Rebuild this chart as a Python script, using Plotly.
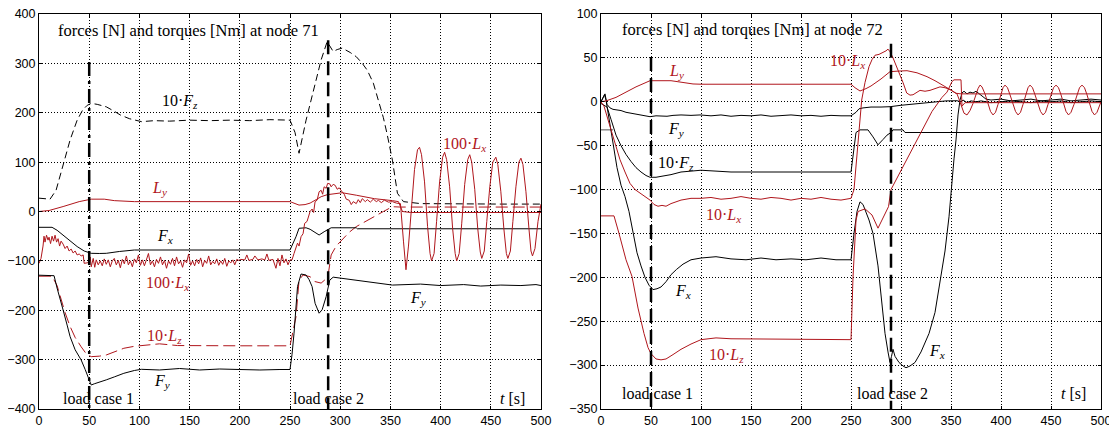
import plotly.graph_objects as go

RED = "#b0161c"
BLK = "#000000"
GRY = "#555555"

# ---------------- node 71 (left) ----------------
FZ10_L_T = [0, 11, 17, 24, 31, 38, 43.5, 48, 52, 58, 67, 75, 81, 90, 102, 115, 130, 150, 170, 190, 210, 230, 250, 255, 259, 266, 273.5, 281, 287, 290, 293, 297, 302, 310, 316, 322, 327, 333, 338, 343, 346.6, 352, 357, 363, 380, 420, 460, 500]
FZ10_L_V = [27, 25, 43, 95, 145, 185, 205.6, 215, 219, 217, 212, 203, 195.5, 188, 182, 184, 183, 185, 184, 185, 184, 186, 185, 160, 118, 185, 246, 307, 344, 335, 324, 328, 331, 322, 313.5, 300, 286, 260, 226, 190, 158, 104, 37, 20, 16, 15, 15, 15]

LY_L_T = [0, 10, 24, 40, 52, 65, 75, 95, 250, 255, 259, 265, 270, 276, 281, 287, 291, 296, 302, 316, 334, 352, 358, 362, 370, 500]
LY_L_V = [0, 2, 10, 20, 25, 25, 22, 20, 20, 16, 13, 14, 17, 24, 30, 34, 35, 37, 38, 33, 26, 22, 20, 0, -2, -2]

LZ10_L_T = [0, 13, 18, 22, 26, 31, 36, 42, 47, 52, 60, 67, 75, 84.5, 95, 102, 120, 138, 160, 200, 250, 253, 256, 259, 263, 270, 275, 281, 285, 288, 291, 296, 302, 309, 316, 325, 334, 343, 352, 360, 500]
LZ10_L_V = [-131, -131, -150, -179, -205, -233, -255, -274, -288, -294, -293, -290.6, -284, -277, -273, -271.5, -268, -271.5, -272, -272, -272, -240, -213, -139, -128.6, -132, -142, -145, -138, -128, -88, -70, -57.7, -42, -30.6, -20, -10, 0, 9.7, 9, 9]

FX_L_T = [0, 13, 18, 24, 31, 38, 45, 52, 60, 67, 80, 95, 250, 253, 256, 259, 266, 270, 273.5, 279, 284, 288, 291, 316, 317, 500]
FX_L_V = [-32, -32, -38, -47.6, -60, -71, -80, -84.7, -85, -84.7, -81, -78, -78, -65, -51, -34, -33, -36, -41, -47.6, -41, -36, -33, -33, -35, -35]

FY_L_T = [0, 15, 18, 21, 24, 28, 31, 36, 42, 46, 49, 52, 55, 60, 67, 75, 84.5, 95, 102, 120, 140, 160, 180, 200, 220, 240, 250, 252, 254, 257.5, 261, 266, 269, 272, 275, 279, 282, 286, 289.6, 293, 300, 316, 335, 352, 380, 400, 423, 440, 460, 480, 495, 500]
FY_L_V = [-129, -130, -155, -180, -199.5, -230, -253.5, -280, -300.7, -320, -334.5, -351.4, -349, -345, -341, -335, -327.7, -322, -319.6, -321, -318, -321, -319, -320, -321, -320, -320, -290, -246.7, -152, -126.6, -128.6, -138, -152, -186, -206, -199, -172.5, -139, -133, -135, -138.7, -144, -149, -147, -150, -148, -151, -149, -150, -148, -150]

LX100_L_T = [0, 2, 4, 5, 6, 7.5, 9, 10, 11.5, 13, 14.5, 16, 17.5, 19, 20.5, 22, 24, 26, 28, 30, 32, 34, 36, 38, 40, 42, 44, 45, 48, 50, 51, 52, 54, 55.5, 57, 59, 61, 63, 65, 67, 69, 71, 73, 75, 77, 79, 81, 83, 85, 87, 89, 91, 93, 95, 97, 99, 101, 103, 105, 107, 109, 111, 113, 115, 117, 119, 121, 123, 125, 127, 129, 131, 133, 135, 137, 139, 141, 143, 145, 147, 149, 151, 153, 155, 157, 159, 161, 163, 165, 167, 169, 171, 173, 175, 177, 179, 181, 183, 185, 187, 189, 191, 193, 195, 197, 199, 201, 205, 207, 209, 213, 215, 218, 222, 225, 227, 229, 233, 236, 238, 240, 242, 244, 246, 248, 250,
             252, 254, 257.5, 259, 261, 263, 264.6, 267, 270, 272, 273.5, 275, 277, 279, 281, 282.5, 284, 286, 287.5, 289.6, 291, 293, 295, 297, 299, 302, 304, 306, 309, 311, 313, 316, 318, 320, 322, 325, 327, 330, 333, 336, 338, 341, 344, 348, 352, 356, 359,
             360, 363, 365.5, 368, 371, 374, 377, 379, 381, 384, 387, 389.5, 391, 393.5, 396, 399, 402, 404, 406, 409, 412, 414.5, 416, 418.5, 421, 424, 427, 429, 431, 434, 437, 439.5, 441, 443.5, 446, 449, 452, 455, 457, 460, 463, 465.5, 467, 469.5, 472, 475, 478, 480, 482, 485, 488, 490, 491.5, 494, 497, 500]
LX100_L_V = [-105, -95, -70, -50, -62, -48, -58, -52, -65, -50, -60, -48, -62, -55, -70, -60, -66, -75, -70, -80, -76, -84, -80, -88, -86, -90, -88, -105, -104, -102, -92, -112, -95, -113, -98, -108, -100, -110, -96, -107, -98, -112, -100, -95, -108, -99, -114, -97, -106, -90, -108, -100, -112, -96, -104, -88, -109, -98, -110, -96, -85, -108, -100, -112, -97, -105, -92, -108, -99, -115, -100, -107, -95, -110, -92, -106, -100, -113, -98, -104, -86, -109, -100, -110, -97, -106, -94, -112, -99, -105, -90, -108, -101, -106, -96, -109, -100, -107, -95, -111, -100, -104, -98, -108, -97, -99, -97, -98, -88, -99, -97, -90, -98, -96, -98, -86, -99, -97, -115, -95, -110, -88, -104, -96, -108, -98,
             -98, -85, -64, -70, -51, -45, -24, -20, 0, 5, -2, 20, 23, 40, 43, 35, 50, 47, 57, 56, 50, 55, 53, 45, 48, 39.6, 35, 25, 22.7, 14, 20, 16, 24, 18, 26, 20, 24, 19, 25, 20, 22.7, 18, 23, 19, 20, 17, 16,
             16, -60, -118, -70, 10, 85, 125, 130, 115, 60, -30, -85, -100, -85, -20, 60, 110, 120, 105, 50, -35, -85, -100, -85, -25, 55, 105, 115, 100, 45, -35, -82, -95, -80, -20, 50, 100, 110, 95, 40, -35, -85, -95, -80, -20, 50, 100, 108, 95, 40, -35, -80, -90, -75, -20, 15]

# ---------------- node 72 (right) ----------------
LY_R_T = [0, 5, 15, 25, 35, 45, 49, 60, 70, 76, 85, 92, 100, 250, 254, 259, 265, 270, 280, 289, 298, 306, 316, 326, 334, 342, 349, 355, 360, 500]
LY_R_V = [0, 1, 5, 11, 17, 22, 24, 24, 24, 23, 21, 20.3, 20, 20, 16, 12.3, 15, 18, 26, 34.3, 35, 35.4, 33, 28.6, 24, 19, 14, 9.7, 9, 9]

LZ10_R_T = [0, 13, 18, 25, 31, 37, 43, 47, 50, 55, 60, 65, 72, 80, 90, 100, 115, 130, 250, 252, 255, 257, 264, 271, 277, 282, 287.5, 290, 300, 313, 322, 331, 341, 346, 351, 353, 360, 361, 364, 500]
LZ10_R_V = [-130, -130, -150, -180, -199, -235, -264, -280, -287, -293, -294, -293, -288, -282, -276, -271, -269, -270, -271, -200, -135, -125, -122, -129, -144, -133, -119.5, -100, -78, -49, -30, -11, 5, 11, 23, 25, 25, -5, -1, -1]

LX10_R_T = [0, 3, 9, 14, 19, 24, 29, 34, 39, 44, 49, 53, 57, 61, 65, 70, 75, 80, 85, 90, 100, 110, 120, 130, 140, 150, 160, 170, 180, 190, 200, 210, 220, 230, 240, 250,
            253, 257, 260.7, 264, 268, 271, 274, 278, 282, 285, 287, 289, 292, 295, 299, 302, 305.7, 309, 312, 316, 319, 324, 329, 334, 339, 344, 349, 353, 356,
            358, 361, 363, 366, 369, 372, 375, 377, 379, 381, 384, 387, 389.5, 392, 394.5, 397, 400, 402, 404, 406.5, 409, 412, 414.5, 417, 419.5, 422, 425, 427, 429, 431.5, 434, 437, 439.5, 442, 444.5, 447, 450, 452.5, 455, 457.5, 460, 463, 465, 467.5, 470, 473, 476, 478.5, 481, 483.5, 486, 489, 491, 493.5, 496, 500]
LX10_R_V = [0, -5, -28, -48, -66, -80, -93, -100, -104, -108, -112, -117, -119, -118, -119, -116, -114, -112, -111, -110, -110, -109, -111, -110, -108, -110, -111, -109, -110, -112, -110, -111, -109, -111, -112, -110,
            -100, -50, 2, 22, 40, 48, 53, 54, 56, 58, 60, 57, 50, 42, 32, 22, 10, 7.6, 8, 11, 13, 12, 13, 15, 17, 16, 14, 11, 9,
            3, -8, -13, -15, -10, -2, 8, 15, 19, 17, 9, -2, -11, -15, -12, -3, 8, 16, 19, 16, 8, -3, -11, -15, -12, -3, 8, 16, 19, 16, 8, -3, -11, -15, -12, -3, 8, 16, 19, 16, 8, -3, -11, -15, -12, -3, 8, 16, 19, 16, 8, -3, -11, -15, -12, 0]

FY_R_T = [0, 2, 4, 6, 9, 12, 16, 20, 25, 30, 35, 40, 45, 49, 55, 60, 66, 72, 80, 90, 99, 110, 120, 130, 140, 150, 160, 170, 180, 190, 200, 210, 220, 230, 240, 250, 255, 258, 262, 270, 280, 289, 300, 310, 322, 335, 345, 356,
          360, 362, 366, 370, 375, 380, 390, 400, 410, 420, 430, 440, 450, 460, 470, 480, 490, 500]
FY_R_V = [0, 5, 9, -3, -7, -8.6, -9, -10, -12, -13, -14, -15, -16, -17, -16, -16, -16.5, -15.5, -15, -15.5, -15, -16, -15, -16.5, -15.5, -16, -15, -16.5, -16, -15, -16, -15.5, -16.5, -15.5, -16, -16, -12, -8, -7, -6, -6, -5.6, -4, -3, -1.8, 0, 1, 1.2,
          0, 2, -1, 1, 0, 1, -1, 0, 1, 0, -1, 1, 0, 1, -1, 0, 1, 0]

FX_R_T = [0, 2, 3.5, 5, 8, 12, 16, 20, 24, 28, 32, 36, 40, 44, 48, 52, 56, 60, 65, 70, 75.5, 82, 90, 100, 115, 130, 145, 160, 175, 190, 205, 220, 235, 250,
          253, 256, 259, 262, 268, 272, 277, 281, 284, 287, 289, 290.5, 292, 294, 298, 302, 305, 309, 314, 320, 328, 334, 339, 344, 348, 350, 353, 355, 357, 359,
          361, 363, 366, 369, 372, 375, 378, 381, 385, 390, 400, 410, 420, 430, 440, 450, 460, 470, 480, 490, 500]
FX_R_V = [0, 4, 8, 2, -20, -50, -75, -95, -108, -125, -150, -172, -187, -200, -209, -214, -213, -211, -205, -197, -191, -185, -180, -178, -176.5, -179, -180, -178, -180, -179, -180, -178, -180, -180,
          -150, -125, -114, -117, -134.7, -150, -187, -230, -263.8, -285, -297, -290, -282, -290, -297, -301, -303, -301, -297, -285, -264, -240, -207, -170, -131, -100, -65, -43.5, -15, 2,
          10, 12, 9, 11, 10, 12, 9, 6, 3, 2, 3, 1, 2, 3, 1, 2, 3, 1, 2, 3, 2]

FZ10_R_T = [0, 3, 6, 10, 15, 20, 25, 30, 35, 40, 45, 49, 55, 60, 70, 80, 90, 100, 115, 130, 250, 252, 255, 259, 267, 272, 277, 282, 286, 290, 292, 302, 304, 500]
FZ10_R_V = [-2, -4, -6, -20, -38, -50, -60, -68, -75, -80, -84, -86, -86, -85, -83, -80, -79, -78, -79, -80, -80, -60, -35, -32, -32, -40, -49, -43, -38, -35, -32, -32, -35, -35]

FZ10_R0_T = [0, 12]
FZ10_R0_V = [-32, -32]

# load case markers
LC_L_T = [50, 288]
LC_L_TOP = [303, 347]
LC_R_T = [50, 290]
LC_R_TOP = [51, 66]

X_TICKS = [0, 50, 100, 150, 200, 250, 300, 350, 400, 450, 500]
Y_TICKS_L = [-400, -300, -200, -100, 0, 100, 200, 300, 400]
Y_TICKS_R = [-350, -300, -250, -200, -150, -100, -50, 0, 50, 100]

fig = go.Figure()

def add(t, v, color, dash="solid", width=1.0, ax="L"):
    fig.add_trace(go.Scatter(
        x=t, y=v, mode="lines",
        line=dict(color=color, width=width, dash=dash),
        xaxis="x" if ax == "L" else "x2",
        yaxis="y" if ax == "L" else "y2",
        showlegend=False, hoverinfo="skip"))

# left
add(FZ10_L_T, FZ10_L_V, BLK, "7px,4px")
add(LZ10_L_T, LZ10_L_V, RED, "12px,5px")
add(FX_L_T, FX_L_V, BLK)
add(FY_L_T, FY_L_V, BLK)
add(LY_L_T, LY_L_V, RED)
add(LX100_L_T, LX100_L_V, RED)
add([LC_L_T[0]] * 2, [LC_L_TOP[0], -400], BLK, "14px,5px,3px,5px", 2.5)
add([LC_L_T[1]] * 2, [LC_L_TOP[1], -400], BLK, "14px,7px", 2.5)

# right
add(FZ10_R0_T, FZ10_R0_V, GRY, ax="R")
add(FZ10_R_T, FZ10_R_V, BLK, ax="R")
add(FX_R_T, FX_R_V, BLK, ax="R")
add(FY_R_T, FY_R_V, BLK, ax="R")
add(LZ10_R_T, LZ10_R_V, RED, ax="R")
add(LY_R_T, LY_R_V, RED, ax="R")
add(LX10_R_T, LX10_R_V, RED, ax="R")
add([LC_R_T[0]] * 2, [LC_R_TOP[0], -350], BLK, "14px,7px", 2.5, ax="R")
add([LC_R_T[1]] * 2, [LC_R_TOP[1], -350], BLK, "14px,7px", 2.5, ax="R")

SERIF = "Liberation Serif"
SANS = "Liberation Sans"

def lab(x, y, text, color=BLK, ax="L", xanchor="center", size=16):
    fig.add_annotation(x=x, y=y, text=text, showarrow=False,
                       xref="x" if ax == "L" else "x2", yref="y" if ax == "L" else "y2",
                       xanchor=xanchor, yanchor="middle",
                       font=dict(family=SERIF, size=size, color=color))

def F(s, sub):
    return f"<i>{s}</i><sub><i>{sub}</i></sub>"

# left labels
lab(17, 367, "forces [N] and torques [Nm] at node 71", xanchor="left", size=16.5)
lab(140, 222, "10·" + F("F", "z"))
lab(120, 47, F("L", "y"), RED)
lab(424, 135, "100·" + F("L", "x"), RED)
lab(125, -51, F("F", "x"))
lab(128, -146, "100·" + F("L", "x"), RED)
lab(125, -254, "10·" + F("L", "z"), RED)
lab(123, -345, F("F", "y"))
lab(377, -176, F("F", "y"))
lab(59, -378, "load case 1")
lab(288, -378, "load case 2")
lab(472, -378, "<i>t</i> [s]")

# right labels
lab(19, 82, "forces [N] and torques [Nm] at node 72", ax="R", xanchor="left", size=16.5)
lab(246, 46, "10·" + F("L", "x"), RED, ax="R")
lab(75, 34, F("L", "y"), RED, ax="R")
lab(75, -32, F("F", "y"), ax="R")
lab(75, -70, "10·" + F("F", "z"), ax="R")
lab(122, -129, "10·" + F("L", "x"), RED, ax="R")
lab(82, -216, F("F", "x"), ax="R")
lab(125, -289, "10·" + F("L", "z"), RED, ax="R")
lab(336, -285, F("F", "x"), ax="R")
lab(56, -332, "load case 1", ax="R")
lab(291, -332, "load case 2", ax="R")
lab(472, -332, "<i>t</i> [s]", ax="R")

axcommon = dict(showline=True, linecolor="black", linewidth=1, mirror="ticks",
                ticks="inside", ticklen=3, tickcolor="black", automargin=False,
                ticklabeloverflow="allow",
                showgrid=True, gridcolor="black", gridwidth=1, griddash="1px,2px",
                zeroline=False, tickfont=dict(family=SANS, size=12.5, color="black"))

# the page body adds an 8px offset, so the figure is 8px smaller and margins shifted
fig.update_layout(
    width=1109, height=417,
    margin=dict(l=31, r=16, t=6, b=16),
    paper_bgcolor="white", plot_bgcolor="white",
    showlegend=False,
    xaxis=dict(domain=[0, 0.4727], range=[0, 500], tickvals=X_TICKS, anchor="y", **axcommon),
    yaxis=dict(domain=[0, 1], range=[-400, 400], tickvals=Y_TICKS_L, anchor="x", **axcommon),
    xaxis2=dict(domain=[0.5292, 1], range=[0, 500], tickvals=X_TICKS, anchor="y2", **axcommon),
    yaxis2=dict(domain=[0, 1], range=[-350, 100], tickvals=Y_TICKS_R, anchor="x2", **axcommon),
)

fig.write_html("out.html")
